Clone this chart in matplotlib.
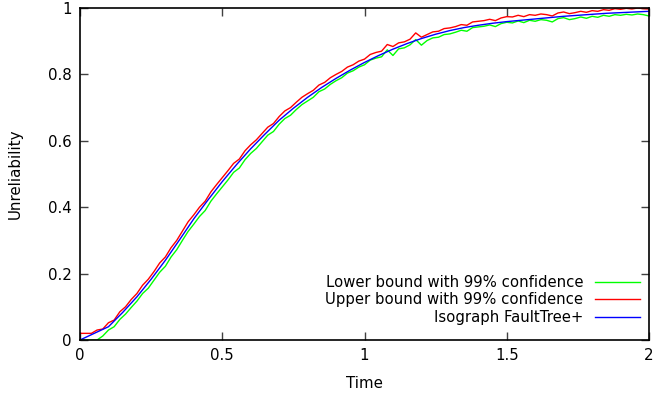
import numpy as np
import matplotlib
matplotlib.use('Agg')
import matplotlib.pyplot as plt

#%% data
# Isograph FaultTree+ curve, every 0.05 in time
t_iso = [0.00, 0.05, 0.10, 0.15, 0.20, 0.25, 0.30, 0.35, 0.40, 0.45,
         0.50, 0.55, 0.60, 0.65, 0.70, 0.75, 0.80, 0.85, 0.90, 0.95,
         1.00, 1.05, 1.10, 1.15, 1.20, 1.25, 1.30, 1.35, 1.40, 1.45,
         1.50, 1.55, 1.60, 1.65, 1.70, 1.75, 1.80, 1.85, 1.90, 1.95, 2.00]
u_iso = [0.000, 0.020, 0.040, 0.083, 0.130, 0.183, 0.240, 0.302, 0.365, 0.422,
         0.477, 0.528, 0.576, 0.620, 0.662, 0.698, 0.731, 0.761, 0.788, 0.813,
         0.836, 0.857, 0.876, 0.893, 0.908, 0.921, 0.932, 0.941, 0.948, 0.954,
         0.959, 0.963, 0.967, 0.971, 0.975, 0.978, 0.981, 0.984, 0.986, 0.988, 0.990]

# simulation bounds, every 0.02 in time
t_sim = [0.00, 0.02, 0.04, 0.06, 0.08, 0.10, 0.12, 0.14, 0.16, 0.18,
         0.20, 0.22, 0.24, 0.26, 0.28, 0.30, 0.32, 0.34, 0.36, 0.38,
         0.40, 0.42, 0.44, 0.46, 0.48, 0.50, 0.52, 0.54, 0.56, 0.58,
         0.60, 0.62, 0.64, 0.66, 0.68, 0.70, 0.72, 0.74, 0.76, 0.78,
         0.80, 0.82, 0.84, 0.86, 0.88, 0.90, 0.92, 0.94, 0.96, 0.98,
         1.00, 1.02, 1.04, 1.06, 1.08, 1.10, 1.12, 1.14, 1.16, 1.18,
         1.20, 1.22, 1.24, 1.26, 1.28, 1.30, 1.32, 1.34, 1.36, 1.38,
         1.40, 1.42, 1.44, 1.46, 1.48, 1.50, 1.52, 1.54, 1.56, 1.58,
         1.60, 1.62, 1.64, 1.66, 1.68, 1.70, 1.72, 1.74, 1.76, 1.78,
         1.80, 1.82, 1.84, 1.86, 1.88, 1.90, 1.92, 1.94, 1.96, 1.98, 2.00]
u_upper = [0.020, 0.020, 0.020, 0.030, 0.033, 0.052, 0.060, 0.085, 0.100, 0.122,
           0.140, 0.165, 0.183, 0.206, 0.232, 0.250, 0.278, 0.300, 0.328, 0.356,
           0.377, 0.400, 0.418, 0.446, 0.468, 0.489, 0.510, 0.532, 0.545, 0.570,
           0.588, 0.603, 0.622, 0.641, 0.652, 0.673, 0.690, 0.700, 0.716, 0.731,
           0.742, 0.752, 0.768, 0.776, 0.790, 0.800, 0.809, 0.822, 0.829, 0.840,
           0.846, 0.860, 0.866, 0.870, 0.890, 0.884, 0.895, 0.898, 0.906, 0.925,
           0.912, 0.920, 0.928, 0.930, 0.938, 0.940, 0.944, 0.950, 0.948, 0.958,
           0.960, 0.962, 0.966, 0.962, 0.970, 0.974, 0.973, 0.978, 0.974, 0.980,
           0.978, 0.982, 0.980, 0.976, 0.985, 0.988, 0.983, 0.986, 0.990, 0.987,
           0.992, 0.990, 0.995, 0.993, 0.998, 0.996, 0.999, 0.997, 1.000, 0.998, 0.997]
u_lower = [0.000, 0.000, 0.000, 0.000, 0.012, 0.030, 0.040, 0.062, 0.078, 0.098,
           0.117, 0.140, 0.156, 0.180, 0.204, 0.222, 0.250, 0.272, 0.300, 0.327,
           0.349, 0.372, 0.390, 0.418, 0.440, 0.461, 0.482, 0.505, 0.518, 0.543,
           0.562, 0.577, 0.597, 0.617, 0.628, 0.650, 0.667, 0.677, 0.694, 0.709,
           0.720, 0.731, 0.748, 0.756, 0.770, 0.781, 0.790, 0.804, 0.811, 0.822,
           0.829, 0.843, 0.849, 0.853, 0.874, 0.857, 0.877, 0.880, 0.889, 0.905,
           0.888, 0.902, 0.910, 0.912, 0.920, 0.922, 0.927, 0.933, 0.930, 0.941,
           0.943, 0.945, 0.949, 0.944, 0.953, 0.957, 0.955, 0.961, 0.956, 0.963,
           0.960, 0.965, 0.963, 0.958, 0.968, 0.971, 0.965, 0.968, 0.973, 0.969,
           0.975, 0.972, 0.978, 0.975, 0.980, 0.978, 0.981, 0.979, 0.982, 0.980, 0.976]

x_ticks = [0, 0.5, 1, 1.5, 2]
x_tick_labels = ['0', '0.5', '1', '1.5', '2']
y_ticks = [0, 0.2, 0.4, 0.6, 0.8, 1]
y_tick_labels = ['0', '0.2', '0.4', '0.6', '0.8', '1']

#%% plot
plt.rcParams['font.family'] = ['DejaVu Sans']
fig = plt.figure(figsize=(6.54, 3.96), dpi=100)
ax = fig.add_axes([80 / 654, 56 / 396, 569 / 654, 332 / 396])

ax.plot(t_sim, u_lower, color='#00ff00', lw=1.0, label='Lower bound with 99% confidence')
ax.plot(t_sim, u_upper, color='#ff0000', lw=1.0, label='Upper bound with 99% confidence')
ax.plot(t_iso, u_iso, color='#0000ff', lw=1.0, label='Isograph FaultTree+')

ax.set_xlim(0, 2)
ax.set_ylim(0, 1)
ax.set_xticks(x_ticks)
ax.set_xticklabels(x_tick_labels)
ax.set_yticks(y_ticks)
ax.set_yticklabels(y_tick_labels)
ax.tick_params(direction='in', length=6, width=1, top=True, right=True,
               labelsize=10.8, pad=6, color='#404040')
for s in ax.spines.values():
    s.set_linewidth(1.2)

ax.set_xlabel('Time', fontsize=10.8, labelpad=9)
ax.set_ylabel('Unreliability', fontsize=10.8, labelpad=18)

ax.legend(loc='lower right', bbox_to_anchor=(0.984, 0.045), frameon=False,
          markerfirst=False, fontsize=10.7, handlelength=3.0, handletextpad=0.8,
          labelspacing=0.18, borderpad=0, borderaxespad=0)

fig.savefig('out.png', dpi=100)
